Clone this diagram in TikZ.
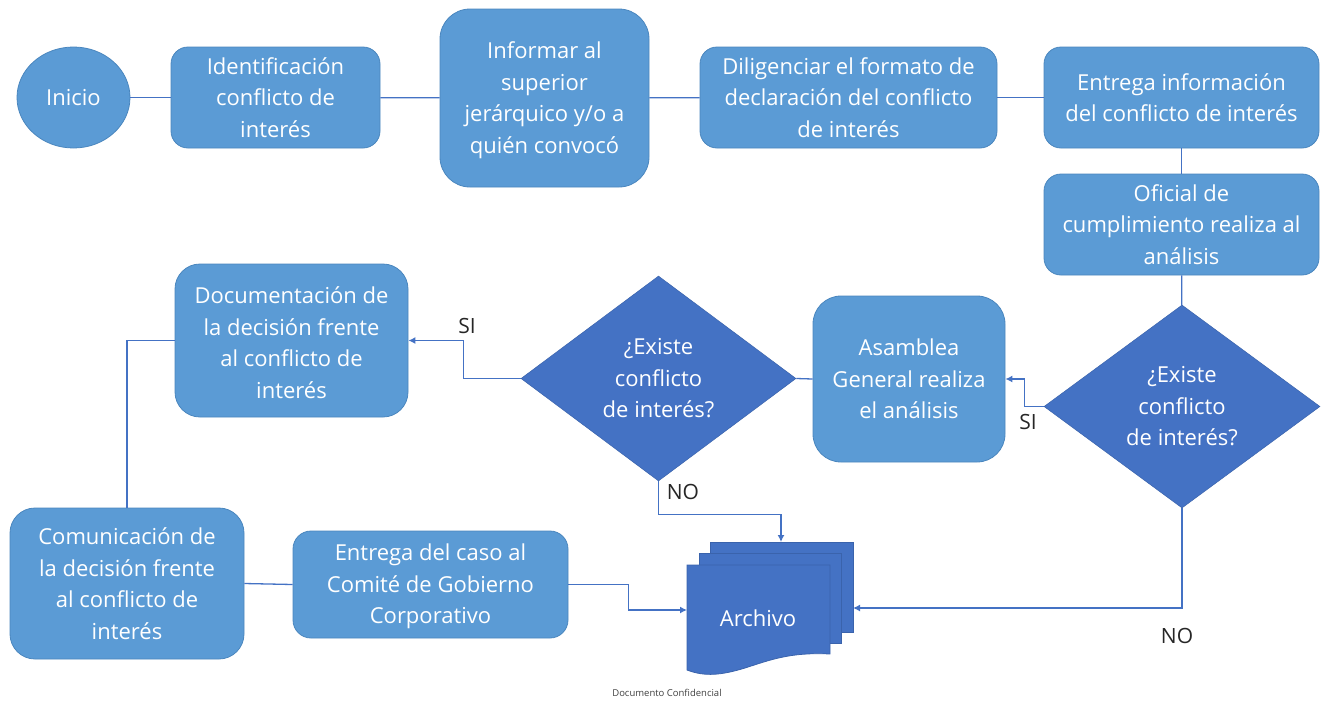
\documentclass[tikz,border=0pt]{standalone}
\usepackage{fontspec}
\setmainfont{Open Sans}
\usetikzlibrary{shapes.geometric,arrows.meta}
\definecolor{boxfill}{HTML}{5B9BD5}
\definecolor{boxline}{HTML}{4A86BE}
\definecolor{darkfill}{HTML}{4472C4}
\definecolor{darkline}{HTML}{3A63AC}
\definecolor{linkc}{HTML}{4472C4}
\newcommand{\lowerstart}{\rule{0pt}{21pt}}
\tikzset{
  x=1pt,y=-1pt,
  boxtxt/.style={font=\fontsize{22}{31.5}\selectfont,text=white,align=center,inner sep=0pt},
  flowbox/.style={boxtxt,rectangle,draw=boxline,fill=boxfill,line width=0.8pt},
  startoval/.style={boxtxt,ellipse,draw=boxline,fill=boxfill,line width=0.8pt},
  decision/.style={boxtxt,diamond,draw=darkline,fill=darkfill,line width=0.5pt},
  link/.style={draw=linkc,line width=1.3pt},
  arrowlink/.style={link,-{Latex[length=7pt,width=7pt]}},
  lbl/.style={font=\fontsize{21}{24}\selectfont,text=black!85,inner sep=0pt},
  docpage/.style={fill=darkfill,draw=darkline,line width=0.8pt},
}
\begin{document}
\begin{tikzpicture}
\useasboundingbox (0,0) rectangle (1328,702);
\node[startoval,minimum width=113pt,minimum height=101pt] (inicio) at (73.5,97.5) {Inicio};
\node[flowbox,rounded corners=17pt,minimum width=209pt,minimum height=101pt] (ident) at (275.5,97.5) {Identificación\\conflicto de\\interés};
\node[flowbox,rounded corners=30pt,minimum width=209pt,minimum height=178pt] (informar) at (544.5,98) {\lowerstart Informar al\\superior\\jerárquico y/o a\\quién convocó};
\node[flowbox,rounded corners=17pt,minimum width=297pt,minimum height=101pt] (dilig) at (848.5,97.5) {Diligenciar el formato de\\declaración del conflicto\\de interés};
\node[flowbox,rounded corners=17pt,minimum width=275pt,minimum height=101pt] (entrega) at (1181.5,97.5) {Entrega información\\del conflicto de interés};
\node[flowbox,rounded corners=17pt,minimum width=275pt,minimum height=101pt] (oficial) at (1181.5,224.5) {Oficial de\\cumplimiento realiza al\\análisis};
\node[decision,minimum width=276pt,minimum height=203pt,aspect=1.36] (dos) at (1182,406.5) {¿Existe\\conflicto\\de interés?};
\node[flowbox,rounded corners=28pt,minimum width=192pt,minimum height=166pt] (asamblea) at (909,379) {Asamblea\\General realiza\\el análisis};
\node[decision,minimum width=275pt,minimum height=205pt,aspect=1.34] (uno) at (658.5,378.5) {¿Existe\\conflicto\\de interés?};
\node[flowbox,rounded corners=25pt,minimum width=233pt,minimum height=153pt] (docum) at (291.5,340.5) {\lowerstart Documentación de\\la decisión frente\\al conflicto de\\interés};
\node[flowbox,rounded corners=25pt,minimum width=234pt,minimum height=151pt] (comun) at (127,583.5) {Comunicación de\\la decisión frente\\al conflicto de\\interés};
\node[flowbox,rounded corners=18pt,minimum width=275pt,minimum height=107pt] (caso) at (430.5,584.5) {\lowerstart Entrega del caso al\\Comité de Gobierno\\Corporativo};
% multidocument
\path[docpage] (710,542) -- (853,542) -- (853,632) -- (830,632) -- (710,632) -- cycle;
\path[docpage] (699,553) -- (841,553) -- (841,643) -- (699,643) -- cycle;
\path[docpage] (687,565) -- (830,565) -- (830,654) .. controls (790,652) and (770,660) .. (745,668) .. controls (722,675) and (705,677) .. (687,670) -- cycle;
\node[boxtxt] (archivo) at (758,618) {Archivo};
\coordinate (archtop) at (781,542);
\coordinate (archright) at (853,608);
\coordinate (archleft) at (687,610);
% connectors
\draw[link] (inicio) -- (ident);
\draw[link] (ident) -- (informar);
\draw[link] (informar) -- (dilig);
\draw[link] (dilig) -- (entrega);
\draw[link] (entrega) -- (oficial);
\draw[link] (oficial) -- (dos);
\draw[arrowlink] (dos.west) -- ++(-19,0) |- (asamblea.east);
\draw[link] (uno.east) -- (asamblea.west);
\draw[arrowlink] (uno.west) -- ++(-57,0) |- (docum.east);
\draw[arrowlink] (uno.south) -- ++(0,33) -| (archtop);
\draw[arrowlink] (dos.south) |- (archright);
\draw[link] (docum.west) -| (comun.north);
\draw[link] (comun.east) -- (caso.west);
\draw[arrowlink] (caso.east) -- ++(60,0) |- (archleft);
% labels
\node[lbl] (si1) at (467,326) {SI};
\node[lbl] (si2) at (1028,422) {SI};
\node[lbl] (no1) at (683,492) {NO};
\node[lbl] (no2) at (1177,636) {NO};
\node[font=\fontsize{9.5}{11}\selectfont,text=black!75,inner sep=0pt] (conf) at (667,693) {Documento Confidencial};
\end{tikzpicture}
\end{document}
